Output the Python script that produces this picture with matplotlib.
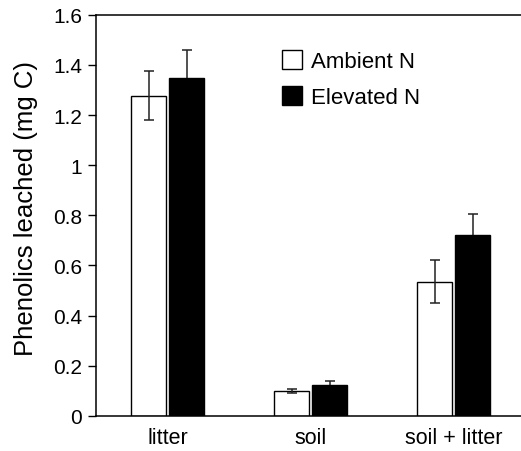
import numpy as np
import matplotlib
matplotlib.use('Agg')
from matplotlib import pyplot as plt

plt.rcParams['font.family'] = ['Liberation Sans', 'DejaVu Sans']

# data
categories = ['litter', 'soil', 'soil + litter']
ambient = [1.277, 0.097, 0.535]
ambient_err = [0.097, 0.008, 0.087]
elevated = [1.349, 0.124, 0.721]
elevated_err = [0.111, 0.013, 0.083]
yticks = [0, 0.2, 0.4, 0.6, 0.8, 1.0, 1.2, 1.4, 1.6]
ytick_labels = ['0', '0.2', '0.4', '0.6', '0.8', '1', '1.2', '1.4', '1.6']

fig = plt.figure(figsize=(5.21, 4.52), dpi=100)
ax = fig.add_axes([0.184, 0.078, 0.816, 0.887])

x = np.arange(len(categories))
w = 0.245
off = 0.133

ax.bar(x - off, ambient, w, color='white', edgecolor='black', linewidth=1.0,
       label='Ambient N', zorder=2)
ax.bar(x + off, elevated, w, color='black', edgecolor='black', linewidth=1.0,
       label='Elevated N', zorder=2)
ax.errorbar(x - off, ambient, yerr=ambient_err, fmt='none', ecolor='#222222',
            elinewidth=1.1, capsize=3.3, capthick=1.1, zorder=3)
ax.errorbar(x + off, elevated, yerr=elevated_err, fmt='none', ecolor='#222222',
            elinewidth=1.1, capsize=3.3, capthick=1.1, zorder=1)

ax.set_xlim(-0.503, 2.469)
ax.set_ylim(0, 1.6)
ax.set_xticks(x)
ax.set_xticklabels(categories, fontsize=15.5)
ax.set_yticks(yticks)
ax.set_yticklabels(ytick_labels, fontsize=15)
ax.tick_params(axis='x', length=0, pad=8)
ax.tick_params(axis='y', direction='out', length=6, width=1, pad=4)

ax.spines['right'].set_visible(False)
for s in ['left', 'top', 'bottom']:
    ax.spines[s].set_linewidth(1.1)

ax.set_ylabel('Phenolics leached (mg C)', fontsize=18.5)
ax.yaxis.set_label_coords(-0.135, 0.52)

ax.legend(loc='upper left', bbox_to_anchor=(0.541, 0.887),
          bbox_transform=fig.transFigure, frameon=False, fontsize=16,
          handlelength=0.9, handleheight=0.9, handletextpad=0.4,
          labelspacing=0.65, borderpad=0, borderaxespad=0)

fig.savefig('out.png', dpi=100)
